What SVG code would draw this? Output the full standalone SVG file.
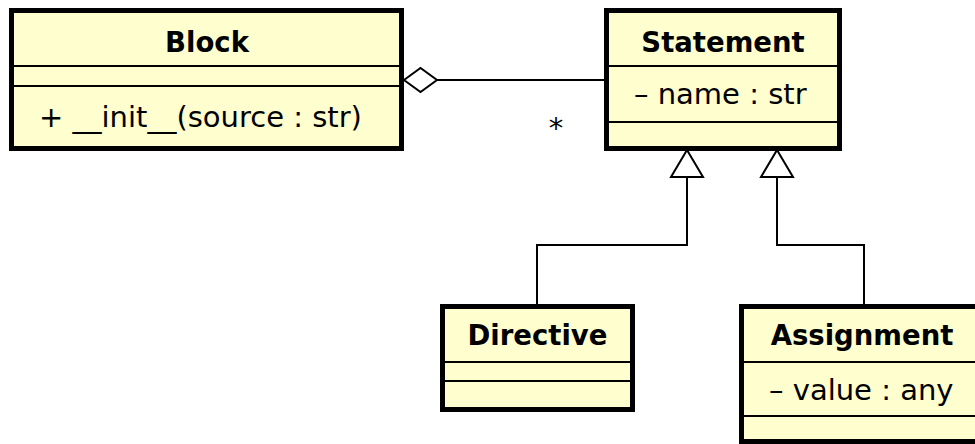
<svg xmlns="http://www.w3.org/2000/svg" width="975" height="444" viewBox="0 0 975 444">
  <style>
    .box { fill: #FEFECE; stroke: #000; stroke-width: 5; }
    .sep { stroke: #000; stroke-width: 2; }
    .edge { fill: none; stroke: #000; stroke-width: 2; }
    .head { fill: #fff; stroke: #000; stroke-width: 2; stroke-linejoin: miter; }
    text { font-family: "DejaVu Sans", "Liberation Sans", sans-serif; font-size: 29px; fill: #000; }
    .title { font-weight: bold; font-size: 27.5px; text-anchor: middle; }
  </style>
  <rect width="975" height="444" fill="#fff"/>

  <!-- associations and generalizations -->
  <g id="connectors">
    <line class="edge" x1="437" y1="80" x2="604" y2="80"/>
    <polygon class="head" points="404,80 420.5,68 437,80 420.5,92"/>
    <text x="556" y="138" text-anchor="middle" font-size="31">*</text>
    <path class="edge" d="M687 177 V245 H537 V304"/>
    <polygon class="head" points="687,150 703,177 671,177"/>
    <path class="edge" d="M777 177 V245 H864 V304"/>
    <polygon class="head" points="777,150 793,177 761,177"/>
  </g>

  <g id="block">
    <rect class="box" x="11.5" y="10.5" width="390" height="138"/>
    <line class="sep" x1="11.5" y1="66" x2="401.5" y2="66"/>
    <line class="sep" x1="11.5" y1="86" x2="401.5" y2="86"/>
    <text class="title" x="207" y="52">Block</text>
    <text x="39" y="127">+ __init__(source : str)</text>
  </g>

  <g id="statement">
    <rect class="box" x="606.5" y="10.5" width="233" height="138"/>
    <line class="sep" x1="606.5" y1="66" x2="839.5" y2="66"/>
    <line class="sep" x1="606.5" y1="122" x2="839.5" y2="122"/>
    <text class="title" x="723" y="52">Statement</text>
    <text x="634" y="104">– name : str</text>
  </g>

  <g id="directive">
    <rect class="box" x="442.5" y="306.5" width="190" height="103"/>
    <line class="sep" x1="442.5" y1="362" x2="632.5" y2="362"/>
    <line class="sep" x1="442.5" y1="381" x2="632.5" y2="381"/>
    <text class="title" x="537.5" y="345">Directive</text>
  </g>

  <g id="assignment">
    <rect class="box" x="741.5" y="306.5" width="243" height="135"/>
    <line class="sep" x1="741.5" y1="362" x2="984.5" y2="362"/>
    <line class="sep" x1="741.5" y1="416" x2="984.5" y2="416"/>
    <text class="title" x="862" y="345">Assignment</text>
    <text x="769" y="400">– value : any</text>
  </g>
</svg>
